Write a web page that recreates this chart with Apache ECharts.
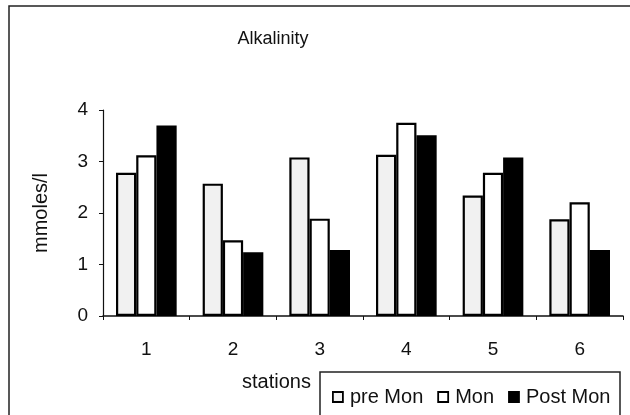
<!DOCTYPE html>
<html><head><meta charset="utf-8">
<script src="https://cdn.jsdelivr.net/npm/echarts@6/dist/echarts.min.js"></script>
<style>html,body{margin:0;padding:0;background:#fff}#c{width:630px;height:415px}</style>
</head><body><div id="c"></div>
<script>
const stations = ['1','2','3','4','5','6'];
const seriesNames = ['pre Mon','Mon','Post Mon'];
const preMon = [2.78, 2.57, 3.08, 3.13, 2.34, 1.88];
const mon = [3.12, 1.47, 1.89, 3.75, 2.78, 2.21];
const postMon = [3.70, 1.24, 1.28, 3.51, 3.08, 1.28];
const yTicks = [0, 1, 2, 3, 4];

const font = '"Liberation Sans", Arial, sans-serif';
const chart = echarts.init(document.getElementById('c'), null, {renderer:'canvas'});
const fills = ['#f1f1f1', '#ffffff', '#000000'];
const data = [preMon, mon, postMon];
chart.setOption({
  animation: false,
  backgroundColor: '#fff',
  title: {text: 'Alkalinity', left: 268, top: 25, textAlign: 'center',
    textStyle: {fontFamily: font, fontSize: 18, fontWeight: 'normal', color: '#111'}},
  grid: {left: 103, right: 7, top: 110, bottom: 99},
  legend: {
    left: 327, top: 382, itemWidth: 10, itemHeight: 10, itemGap: 14,
    icon: 'rect',
    textStyle: {fontFamily: font, fontSize: 20, color: '#111', padding: [0,0,0,2]},
    data: seriesNames.map((n, i) => ({name: n, itemStyle: {color: fills[i], borderColor: '#000', borderWidth: 1.8}}))
  },
  xAxis: {
    type: 'category', data: stations,
    name: 'stations', nameLocation: 'start',
    nameGap: 0,
    nameTextStyle: {fontFamily: font, fontSize: 20, color: '#111', align: 'left', verticalAlign: 'top', padding: [56, 0, 0, 139]},
    axisLine: {lineStyle: {color: '#111', width: 1.5}},
    axisTick: {show: true, length: 4, lineStyle: {color: '#111'}},
    axisLabel: {fontFamily: font, fontSize: 19, color: '#111', margin: 24}
  },
  yAxis: {
    type: 'value', min: yTicks[0], max: yTicks[yTicks.length-1], interval: 1,
    name: 'mmoles/l', nameLocation: 'middle', nameGap: 52, nameRotate: 90,
    nameTextStyle: {fontFamily: font, fontSize: 20, color: '#111'},
    axisLine: {show: true, lineStyle: {color: '#111', width: 1.2}},
    axisTick: {show: true, length: 4, lineStyle: {color: '#111'}},
    axisLabel: {fontFamily: font, fontSize: 19, color: '#111', margin: 15},
    splitLine: {show: false}
  },
  series: seriesNames.map((n, i) => ({
    name: n, type: 'bar', data: data[i],
    barGap: '0%', barCategoryGap: '30%',
    itemStyle: {color: fills[i], borderColor: '#000', borderWidth: 2.2}
  })),
  graphic: [
    {type: 'rect', shape: {x: 9, y: 6, width: 640, height: 420}, style: {fill: 'none', stroke: '#222', lineWidth: 1.5}, silent: true},
    {type: 'rect', shape: {x: 320, y: 372, width: 300, height: 60}, style: {fill: 'none', stroke: '#222', lineWidth: 1.5}, silent: true}
  ]
});
</script></body></html>
